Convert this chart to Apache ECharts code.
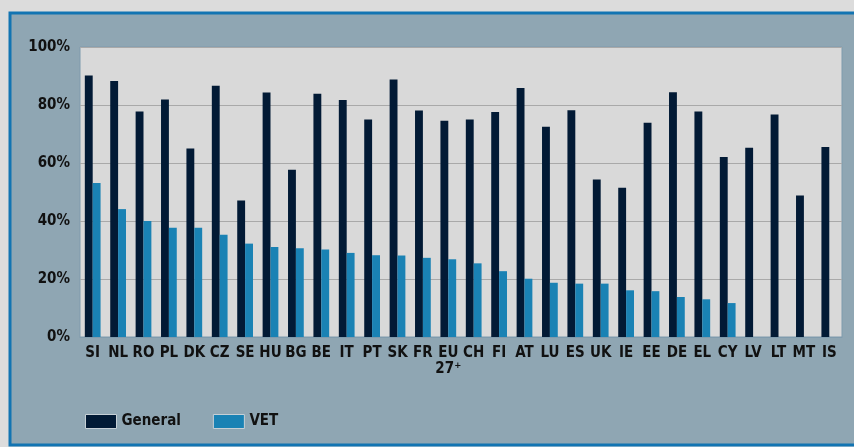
<!DOCTYPE html>
<html style="height: 100%">
<head>
<meta charset="utf-8">
<script src="https://cdn.jsdelivr.net/npm/echarts@6/dist/echarts.min.js"></script>
</head>
<body style="height: 100%; margin: 0; background: #dcdcdc">
<div id="container" style="width: 854px; height: 447px;"></div>
<script type="text/javascript">
// countries, share of students by programme
var countries = ['SI', 'NL', 'RO', 'PL', 'DK', 'CZ', 'SE', 'HU', 'BG', 'BE', 'IT', 'PT', 'SK', 'FR',
  'EU\n27⁺', 'CH', 'FI', 'AT', 'LU', 'ES', 'UK', 'IE', 'EE', 'DE', 'EL', 'CY', 'LV', 'LT', 'MT', 'IS'];
var general = [90.2, 88.3, 77.8, 81.9, 65.0, 86.6, 47.1, 84.3, 57.7, 83.9, 81.7, 75.0, 88.8, 78.1,
  74.6, 75.0, 77.6, 85.9, 72.5, 78.2, 54.3, 51.5, 73.9, 84.4, 77.8, 62.1, 65.3, 76.7, 48.8, 65.5];
var vet = [53.1, 44.1, 40.0, 37.7, 37.7, 35.3, 32.2, 31.0, 30.6, 30.2, 29.0, 28.2, 28.1, 27.3,
  26.8, 25.4, 22.7, 20.1, 18.7, 18.4, 18.4, 16.1, 15.8, 13.8, 13.0, 11.7, null, null, null, null];
var yTicks = [0, 20, 40, 60, 80, 100];

var font = "'DejaVu Sans Condensed', 'Liberation Sans Narrow', sans-serif";
var dom = document.getElementById("container");
var myChart = echarts.init(dom);
var option = {
  backgroundColor: '#dcdcdc',
  animation: false,
  graphic: [{
    type: 'rect',
    shape: { x: 10, y: 13, width: 860, height: 432 },
    style: { fill: '#8fa6b3', stroke: '#1274b2', lineWidth: 3 },
    z: -10
  }],
  legend: {
    left: 80, top: 409,
    icon: 'rect',
    itemWidth: 31, itemHeight: 14, itemGap: 32,
    itemStyle: { borderColor: '#c6d0d6', borderWidth: 1 },
    textStyle: { fontFamily: font, fontWeight: 'bold', fontSize: 15, color: '#111' },
    data: ['General', 'VET']
  },
  grid: {
    left: 80, right: 12, top: 47, bottom: 110,
    show: true, backgroundColor: '#d9d9d9', borderColor: '#7f9bad', borderWidth: 1
  },
  xAxis: {
    type: 'category',
    data: countries,
    axisLine: { lineStyle: { color: '#7f9bad' } },
    axisTick: { show: false },
    axisLabel: {
      interval: 0, margin: 8, lineHeight: 16,
      fontFamily: font, fontWeight: 'bold', fontSize: 15, color: '#111'
    }
  },
  yAxis: {
    type: 'value',
    min: yTicks[0], max: yTicks[yTicks.length - 1], interval: 20,
    axisLabel: {
      formatter: '{value}%', margin: 10,
      fontFamily: font, fontWeight: 'bold', fontSize: 15, color: '#111'
    },
    splitLine: { lineStyle: { color: '#a9a9a9' } }
  },
  series: [{
    name: 'General',
    type: 'bar',
    data: general,
    barGap: 0, barCategoryGap: '38%',
    itemStyle: { color: '#021a35' }
  }, {
    name: 'VET',
    type: 'bar',
    data: vet,
    itemStyle: { color: '#1a82b4' }
  }]
};
myChart.setOption(option, true);
</script>
</body>
</html>
